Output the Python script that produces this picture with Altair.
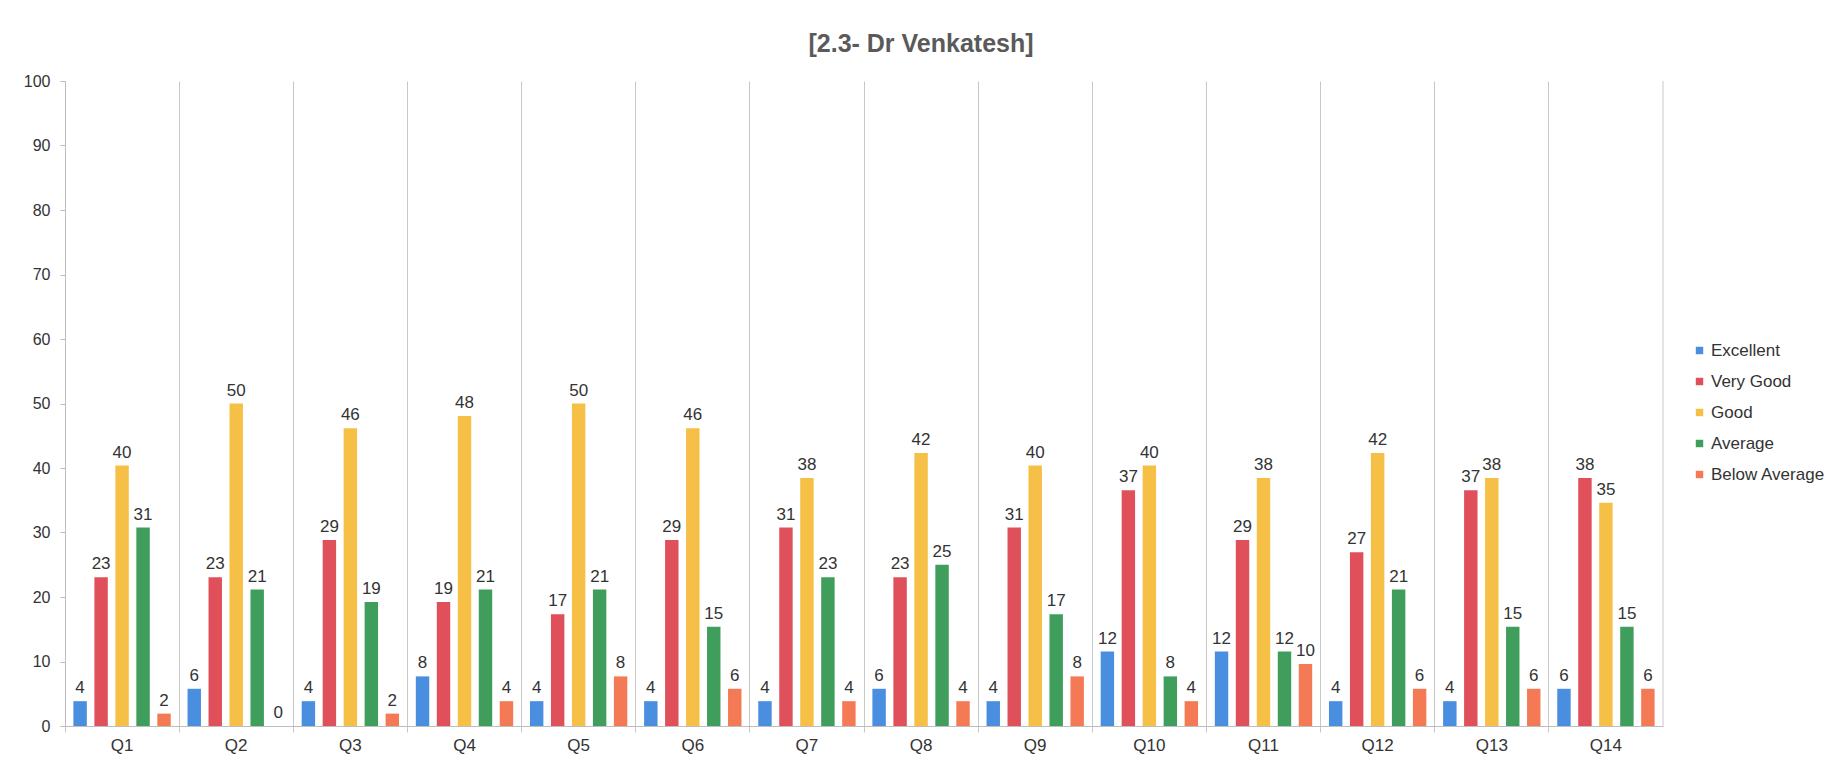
import altair as alt
import pandas as pd

questions = ["Q1", "Q2", "Q3", "Q4", "Q5", "Q6", "Q7", "Q8", "Q9", "Q10", "Q11", "Q12", "Q13", "Q14"]
ratings = ["Excellent", "Very Good", "Good", "Average", "Below Average"]

excellent = [3.85, 5.77, 3.85, 7.69, 3.85, 3.85, 3.85, 5.77, 3.85, 11.54, 11.54, 3.85, 3.85, 5.77]
very_good = [23.08, 23.08, 28.85, 19.23, 17.31, 28.85, 30.77, 23.08, 30.77, 36.54, 28.85, 26.92, 36.54, 38.46]
good = [40.38, 50.00, 46.15, 48.08, 50.00, 46.15, 38.46, 42.31, 40.38, 40.38, 38.46, 42.31, 38.46, 34.62]
average = [30.77, 21.15, 19.23, 21.15, 21.15, 15.38, 23.08, 25.00, 17.31, 7.69, 11.54, 21.15, 15.38, 15.38]
below_average = [1.92, 0.0, 1.92, 3.85, 7.69, 5.77, 3.85, 3.85, 7.69, 3.85, 9.62, 5.77, 5.77, 5.77]

colors = ["#4a8ee0", "#e0505a", "#f6bf45", "#3f9e5c", "#f47a55"]

series = [excellent, very_good, good, average, below_average]
rows = []
for r, vals in zip(ratings, series):
    for q, v in zip(questions, vals):
        rows.append({"question": q, "rating": r, "value": v})
df = pd.DataFrame(rows)

FONT = "Liberation Sans"

x_enc = alt.X(
    "question:N",
    sort=questions,
    scale=alt.Scale(paddingInner=0, paddingOuter=0),
    axis=alt.Axis(
        title=None,
        labelAngle=0,
        labelFontSize=17,
        labelFont=FONT,
        labelColor="#333333",
        labelPadding=5,
        bandPosition=0,
        grid=True,
        gridColor="#c8c8c8",
        gridWidth=1,
        domainColor="#bdbdbd",
        tickColor="#c8c8c8",
        tickSize=6,
    ),
)
xoff_enc = alt.XOffset(
    "rating:N", sort=ratings, scale=alt.Scale(paddingInner=0.36, paddingOuter=0.4)
)
y_enc = alt.Y(
    "value:Q",
    scale=alt.Scale(domain=[0, 100], nice=False),
    axis=alt.Axis(
        title=None,
        values=[0, 10, 20, 30, 40, 50, 60, 70, 80, 90, 100],
        grid=False,
        labelFontSize=16,
        labelFont=FONT,
        labelColor="#333333",
        labelPadding=10,
        domainColor="#bdbdbd",
        tickColor="#bdbdbd",
        tickSize=5,
    ),
)

base = alt.Chart(df).encode(x=x_enc, xOffset=xoff_enc, y=y_enc)

bars = base.mark_bar().encode(
    color=alt.Color(
        "rating:N",
        sort=ratings,
        scale=alt.Scale(domain=ratings, range=colors),
        legend=alt.Legend(
            title=None,
            orient="none",
            legendX=1626,
            legendY=261,
            symbolType="square",
            symbolSize=55,
            symbolStrokeWidth=0,
            labelFontSize=17,
            labelFont=FONT,
            labelColor="#333333",
            labelOffset=3,
            rowPadding=13,
            padding=0,
        ),
    )
)

labels = base.mark_text(
    baseline="bottom", dy=-4, fontSize=17, font=FONT, color="#333333"
).encode(text=alt.Text("value:Q", format=".0f"))

edge = alt.Chart(pd.DataFrame({"question": [questions[-1]]})).mark_rule(
    color="#c8c8c8", strokeWidth=1
).encode(x=alt.X("question:N", sort=questions, bandPosition=1))

chart = (
    alt.layer(bars, labels, edge)
    .properties(
        width=1598,
        height=645,
        title=alt.TitleParams(
            "[2.3- Dr Venkatesh]",
            fontSize=25,
            font=FONT,
            fontWeight="bold",
            color="#5a5a5a",
            anchor="middle",
            frame="group",
            dx=57,
            offset=16,
        ),
        padding={"left": 57, "top": 73, "right": 170, "bottom": 30},
        autosize=alt.AutoSizeParams(type="none"),
    )
    .configure_view(stroke=None)
)

chart.save("out.html", embed_options={"renderer": "svg", "actions": False})
